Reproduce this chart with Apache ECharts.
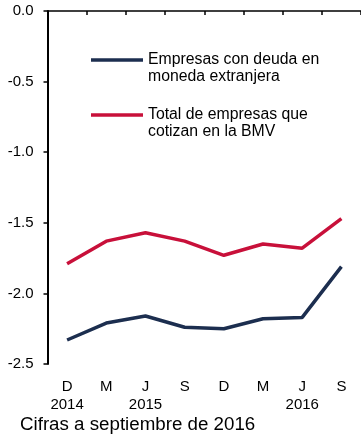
<!DOCTYPE html>
<html>
<head>
<meta charset="utf-8">
<script src="https://cdn.jsdelivr.net/npm/echarts@6/dist/echarts.min.js"></script>
<style>
  html, body { margin: 0; padding: 0; background: #fff; }
  #chart { width: 361px; height: 435px; }
</style>
</head>
<body>
<div id="chart"></div>
<script>
// Quarterly months (Dec 2014 – Sep 2016) and the year shown under some of them
const months = ['D', 'M', 'J', 'S', 'D', 'M', 'J', 'S'];
const years = ['2014', '', '2015', '', '', '', '2016', ''];

const nameForeignDebt = 'Empresas con deuda en\nmoneda extranjera';
const nameListed = 'Total de empresas que\ncotizan en la BMV';

const foreignDebt = [-2.33, -2.21, -2.16, -2.24, -2.25, -2.18, -2.17, -1.81];
const listed = [-1.79, -1.63, -1.57, -1.63, -1.73, -1.65, -1.68, -1.47];

const yTicks = { min: -2.5, max: 0, interval: 0.5 };
const footnote = 'Cifras a septiembre de 2016';

const NAVY = '#1c2e4f';
const RED = '#c8103a';
const FONT = '"Liberation Sans", Arial, sans-serif';

const chart = echarts.init(document.getElementById('chart'), null, { renderer: 'canvas' });

// A blank first line keeps the legend key level with the first line of the name
const legendCommon = {
  icon: 'rect',
  itemWidth: 52,
  itemHeight: 3.5,
  selectedMode: false,
  formatter: name => ' \n' + name,
  textStyle: {
    color: '#000',
    fontFamily: FONT,
    fontSize: 15.8,
    lineHeight: 17
  }
};

chart.setOption({
  animation: false,
  backgroundColor: '#fff',
  grid: { left: 47.5, top: 11, width: 314.5, height: 353, containLabel: false },
  legend: [
    Object.assign({ data: [nameForeignDebt], left: 86, top: 29.5 }, legendCommon),
    Object.assign({ data: [nameListed], left: 86, top: 84.5 }, legendCommon)
  ],
  xAxis: [
    {
      type: 'category',
      data: months,
      position: 'top',
      boundaryGap: true,
      axisLine: { show: true, onZero: false, lineStyle: { color: '#000', width: 1.5 } },
      axisTick: { show: true, inside: true, length: 4, lineStyle: { color: '#000', width: 1.5 } },
      axisLabel: { show: false },
      splitLine: { show: false }
    },
    {
      type: 'category',
      data: months,
      position: 'bottom',
      boundaryGap: true,
      axisLine: { show: false, onZero: false },
      axisTick: { show: false },
      axisLabel: {
        show: true,
        interval: 0,
        margin: 14,
        color: '#000',
        fontFamily: FONT,
        fontSize: 15,
        lineHeight: 18,
        formatter: (v, i) => years[i] ? v + '\n' + years[i] : v + '\n '
      },
      splitLine: { show: false }
    }
  ],
  yAxis: {
    type: 'value',
    min: yTicks.min,
    max: yTicks.max,
    interval: yTicks.interval,
    axisLine: { show: true, lineStyle: { color: '#000', width: 2 } },
    axisTick: { show: true, inside: false, length: 4, lineStyle: { color: '#000', width: 1.5 } },
    axisLabel: {
      color: '#000',
      fontFamily: FONT,
      fontSize: 15,
      margin: 14,
      formatter: v => v.toFixed(1)
    },
    splitLine: { show: false }
  },
  series: [
    {
      name: nameForeignDebt,
      type: 'line',
      xAxisIndex: 0,
      data: foreignDebt,
      symbol: 'none',
      color: NAVY,
      lineStyle: { color: NAVY, width: 3.5 }
    },
    {
      name: nameListed,
      type: 'line',
      xAxisIndex: 0,
      data: listed,
      symbol: 'none',
      color: RED,
      lineStyle: { color: RED, width: 3.5 }
    }
  ],
  graphic: [
    {
      type: 'text',
      x: 20,
      y: 425,
      scaleX: 1.07,
      style: {
        text: footnote,
        fill: '#000',
        font: '17.5px ' + FONT,
        verticalAlign: 'middle'
      }
    }
  ]
});
</script>
</body>
</html>
